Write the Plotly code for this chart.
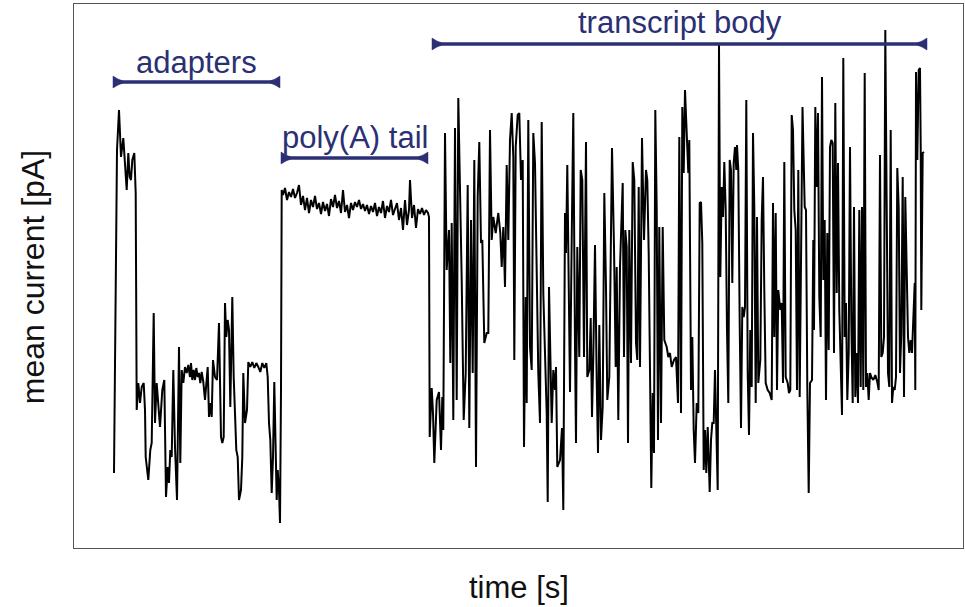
import plotly.graph_objects as go

# ---- data (time in arbitrary units, current in arbitrary pA units) ----
adapters_t = [114, 114.5, 116, 117, 119, 121, 123.3, 125, 126.7, 128.3, 129.7, 131, 132.3, 134.3, 135.7,
              136.7, 138.3, 140, 141.7, 143.7, 145, 145.7, 148.3, 150.3, 151.7, 153.7, 155, 156.7, 158.3,
              160, 162.3, 164.3, 166, 167.7, 169, 170.3, 171.7, 173.3, 175, 177, 179, 180.3, 181.7, 183.3,
              185, 186.7, 188.3, 190, 191, 192.3, 193.7, 195, 196.3, 197.7, 199, 200.3, 201.7, 203.3, 205,
              206.3, 207.7, 209, 210.3, 211.7, 213, 215, 217, 219, 221, 222.3, 223.7, 225, 226.3, 227.7,
              229, 230.3, 232.3, 233.7, 235, 236.3, 237.7, 239, 241, 242.3, 243.3, 245, 247, 248.3, 250.3,
              252.3, 254.3, 256.3, 258.3, 260.3, 262.3, 264.3, 266.3, 267.7, 269, 270.3, 271.7, 273, 274.3,
              275.7, 276.7, 277.7, 279, 280, 281, 281.7]
adapters_i = [75, 121, 315, 398, 438, 391, 410, 381, 358, 395, 371, 368, 388, 395, 355,
              138, 165, 145, 161, 165, 138, 91, 68, 98, 105, 235, 125, 165, 138,
              121, 158, 168, 51, 81, 65, 98, 91, 178, 101, 48, 201, 85, 178, 165,
              181, 175, 183, 171, 185, 168, 178, 168, 180, 171, 175, 165, 176, 166, 148,
              168, 181, 131, 145, 131, 188, 171, 168, 225, 111, 105, 111, 245, 211, 228,
              218, 141, 251, 171, 141, 98, 91, 48, 58, 91, 175, 125, 138, 186, 181,
              186, 180, 185, 181, 176, 185, 180, 185, 171, 125, 108, 55, 91, 166,
              75, 48, 78, 58, 25, 158, 358]

polya_t = [283, 285, 287, 289, 291, 293, 295, 297, 299, 301, 303, 305, 307, 309, 311, 313, 315, 317,
           319, 321, 323, 325, 327, 329, 331, 333, 335, 337, 339, 341, 343, 345, 347, 349, 351, 353,
           355, 357, 359, 361, 363, 365, 367, 369, 371, 373, 375, 377, 379, 381, 383, 385, 387, 389,
           391, 393, 395, 397, 399, 401, 403, 405, 407, 409, 410, 412, 414, 416, 418, 420, 422, 424,
           426, 428, 429]
polya_i = [353, 360, 348, 356, 351, 359, 350, 355, 363, 343, 352, 338, 350, 335, 348, 341, 352, 339,
           345, 334, 346, 337, 344, 332, 349, 341, 353, 340, 347, 335, 358, 336, 343, 330, 345, 338,
           346, 341, 348, 339, 344, 337, 343, 334, 342, 336, 345, 332, 341, 335, 347, 330, 342, 336,
           348, 333, 340, 345, 328, 340, 318, 348, 323, 338, 368, 330, 343, 320, 339, 334, 340, 333,
           338, 335, 331]

body_t = [429.7, 431.7, 433, 434.3, 435.7, 436.7, 439, 441, 442.3, 443.3, 445, 446.7, 449, 450.3, 451.7,
          453.3, 455, 456.7, 458.3, 460, 461.7, 463.7, 465.7, 467.7, 469.3, 471, 472.7, 474.3, 476,
          477.7, 479.3, 481, 482.3, 484.3, 486.7, 488.3, 490, 491.7, 493.3, 495.7, 498.3, 500.3, 501.7,
          503.3, 505, 506.7, 508.3, 510, 511.7, 513.3, 514.3, 515.7, 517.7, 519.3, 521, 522.7, 524,
          525.7, 526.7, 528.3, 530, 531.7, 533.3, 535, 537, 538.3, 540, 541.7, 543.3, 545, 546.7, 547.7,
          549, 551.7, 553.3, 555, 556, 557.3, 560, 562, 563.3, 565, 566, 567.3, 568.7, 570, 571.7, 573.3,
          575, 576, 577.3, 579.3, 580.7, 582.3, 584, 586, 587.3, 589.3, 590.7, 592, 593.3, 595, 596.7,
          598, 599.3, 601, 602.7, 604.3, 606, 607.3, 609.3, 612, 614, 615.7, 616.7, 618.3, 620, 622.7,
          624, 625.3, 626.7, 628, 629.3, 631, 632.7, 634.3, 636, 637.3, 638.7, 640, 642, 644, 646, 647.3,
          648.7, 650, 651.3, 652.7, 654, 655.3, 656.7, 658, 659.3, 661, 662.7, 664.3, 666.7, 668.3, 670,
          671.7, 674, 676, 678, 679.3, 681, 682.3, 683.7, 685, 686.7, 688.3, 689.3, 691, 692.3, 693.7,
          695, 696.7, 698.3, 699.7, 701, 702.3, 703.7, 705, 706.3, 707.7, 709.7, 711, 712.3, 713.7, 715,
          716.3, 717.7, 719, 720.3, 721.7, 723, 724.3, 725.7, 727, 728.3, 729.7, 731, 732.3, 733.7, 735,
          736.3, 737, 738.3, 739.7, 741, 742.3, 743.7, 745, 746.3, 747.7, 749, 750.3, 751.7, 753, 754.3,
          755.7, 757, 758.3, 760.3, 761.7, 763, 764.3, 765.7, 767.7, 769.7, 771.7, 773, 774.3, 775.7,
          777, 778.3, 780.3, 781.7, 783, 784.3, 785.7, 787.7, 789, 790.3, 791.7, 793, 794.3, 795.7, 797,
          798.3, 799.7, 802.5, 804.7, 806, 807.3, 808.7, 810, 812, 813.3, 814, 815.3, 816.7, 818, 819.3,
          820.7, 822, 823.3, 824.7, 826, 827.3, 828.7, 830, 831.3, 832.7, 834, 835.3, 836.7, 838, 839.3,
          840.7, 842, 843.3, 844.7, 846, 847.3, 848.7, 850, 851.3, 852.7, 854, 855.3, 856.7, 858, 859.3,
          860.7, 862, 863.3, 864.7, 866, 867.3, 868.7, 870, 871.3, 873.3, 875.3, 877.3, 878.7, 880,
          881.3, 882.7, 884, 885.3, 886.7, 888, 889.3, 890.7, 892, 893.3, 894.7, 896, 897.3, 898.7, 900,
          901.3, 902.7, 904, 905.3, 906.7, 908, 909.3, 910.7, 912, 913.3, 914.7, 915.3, 916, 917.3,
          918.7, 920, 920.7, 921.3, 922.7, 924]
body_i = [111, 160, 135, 85, 115, 148, 156, 98, 151, 118, 415, 278, 318, 185, 325,
          128, 420, 148, 450, 365, 268, 128, 175, 363, 120, 328, 175, 388, 81,
          351, 406, 305, 308, 205, 215, 215, 418, 308, 331, 315, 335, 315, 281,
          321, 261, 383, 308, 408, 435, 391, 188, 401, 433, 435, 368, 388, 101,
          251, 145, 428, 201, 178, 415, 385, 268, 175, 125, 426, 255, 185, 135, 46,
          261, 125, 178, 158, 181, 81, 88, 120, 38, 335, 295, 383, 228, 156, 308, 435,
          201, 105, 301, 191, 378, 368, 191, 406, 171, 178, 230, 131, 191, 303, 168,
          95, 223, 108, 141, 355, 261, 148, 171, 400, 301, 181, 281, 128, 281, 365,
          191, 318, 301, 105, 318, 185, 386, 368, 205, 188, 361, 181, 410, 308, 378, 368,
          295, 135, 60, 155, 95, 438, 341, 108, 321, 125, 321, 208, 201, 191, 195,
          181, 188, 191, 145, 411, 135, 441, 375, 458, 421, 375, 408, 158, 211, 118,
          85, 145, 135, 345, 346, 305, 78, 118, 75, 121, 56, 108, 125, 125, 178,
          105, 58, 503, 271, 361, 331, 386, 338, 218, 145, 388, 378, 265, 385, 401,
          378, 403, 378, 225, 120, 241, 231, 241, 448, 175, 113, 218, 161, 415, 341,
          145, 331, 165, 188, 328, 371, 258, 165, 158, 155, 148, 345, 211, 335,
          158, 258, 238, 245, 165, 386, 171, 165, 155, 158, 433, 418, 338, 318, 158,
          378, 151, 441, 341, 338, 161, 55, 165, 168, 308, 218, 441, 361, 435, 251,
          211, 471, 268, 328, 148, 315, 198, 401, 408, 405, 195, 445, 255, 385, 238,
          195, 133, 490, 211, 245, 148, 195, 401, 228, 145, 341, 151, 195, 145, 338,
          161, 341, 158, 475, 161, 175, 148, 175, 171, 168, 173, 166, 158, 393,
          191, 195, 211, 518, 295, 175, 161, 418, 145, 161, 158, 171, 380, 341, 175,
          215, 371, 151, 351, 288, 211, 195, 208, 195, 228, 265, 158, 476, 388,
          478, 480, 401, 238, 395, 396]

# ---- region labels ----
region_names = ["adapters", "poly(A) tail", "transcript body"]
region_start = [113, 281, 432]
region_end = [280, 428, 927]
region_bar_level = [466, 390, 504]
region_text_level = [486, 411, 526]

NAVY = "#2b2f73"
FONT = "Liberation Sans, Arial, sans-serif"

time = adapters_t + polya_t + body_t
current = adapters_i + polya_i + body_i

fig = go.Figure()
fig.add_trace(go.Scatter(x=time, y=current, mode="lines",
                         line=dict(color="#000000", width=2), hoverinfo="skip",
                         showlegend=False))

shapes = []
annotations = []
for name, x0, x1, yb, yt in zip(region_names, region_start, region_end, region_bar_level, region_text_level):
    shapes.append(dict(type="line", xref="x", yref="y", x0=x0, x1=x1, y0=yb, y1=yb,
                       line=dict(color=NAVY, width=3.5), layer="above"))
    # flared end caps (wide at the outer end, tapering inward)
    cl = (f"M {x0},{yb+6} Q {x0+4},{yb+3} {x0+10},{yb+1} L {x0+10},{yb-1} "
          f"Q {x0+4},{yb-3} {x0},{yb-6} Z")
    cr = (f"M {x1},{yb+6} Q {x1-4},{yb+3} {x1-10},{yb+1} L {x1-10},{yb-1} "
          f"Q {x1-4},{yb-3} {x1},{yb-6} Z")
    for p in (cl, cr):
        shapes.append(dict(type="path", xref="x", yref="y", path=p, fillcolor=NAVY,
                           line=dict(color=NAVY, width=0.5), layer="above"))
    annotations.append(dict(x=(x0 + x1) / 2, y=yt, xref="x", yref="y", text=name,
                            showarrow=False, xanchor="center", yanchor="middle",
                            font=dict(family=FONT, size=31, color=NAVY)))

annotations.append(dict(x=0.5006, y=-0.072, xref="paper", yref="paper", text="time [s]",
                        showarrow=False, xanchor="center", yanchor="middle",
                        font=dict(family=FONT, size=31, color="#111111")))
annotations.append(dict(x=-0.046, y=0.498, xref="paper", yref="paper", text="mean current [pA]",
                        showarrow=False, xanchor="center", yanchor="middle", textangle=-90,
                        font=dict(family=FONT, size=32, color="#111111")))

axis_common = dict(showgrid=False, zeroline=False, showticklabels=False, ticks="",
                   showline=True, mirror=True, linecolor="#555555", linewidth=1)

fig.update_layout(
    width=965, height=607,
    margin=dict(l=74, r=2, t=4, b=59),
    paper_bgcolor="white", plot_bgcolor="white",
    xaxis=dict(range=[74, 963], **axis_common),
    yaxis=dict(range=[0, 544], **axis_common),
    shapes=shapes, annotations=annotations,
)

fig.write_html("out.html")
